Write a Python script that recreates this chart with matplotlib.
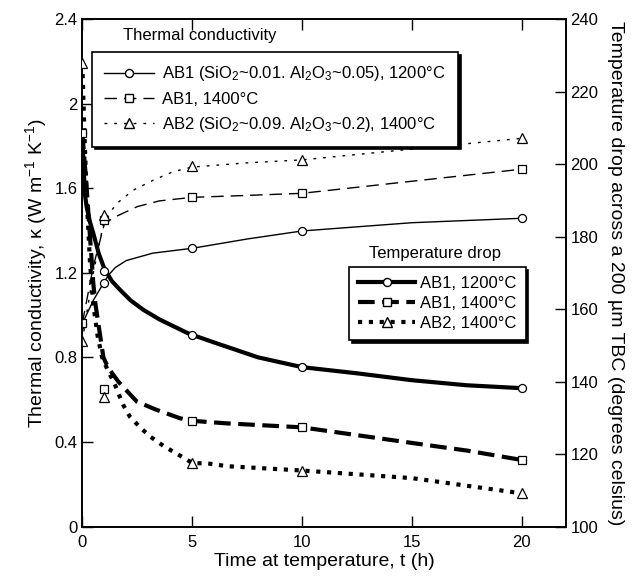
import matplotlib
matplotlib.use('Agg')
import matplotlib.pyplot as plt
from matplotlib.lines import Line2D

plt.rcParams['font.family'] = ['Liberation Sans', 'DejaVu Sans']
plt.rcParams['mathtext.fontset'] = 'custom'
plt.rcParams['mathtext.rm'] = 'Liberation Sans'
plt.rcParams['mathtext.it'] = 'Liberation Sans:italic'

# measured points (markers)
t_pts = [0, 1, 5, 10, 20]

# thermal conductivity (W/mK), left axis
k_ab1_1200 = [0.96, 1.15, 1.316, 1.398, 1.458]
k_ab1_1400 = [0.962, 1.449, 1.557, 1.576, 1.69]
k_ab2_1400 = [0.878, 1.473, 1.707, 1.734, 1.836]

# temperature drop (deg C), right axis
dT_ab1_1200 = [208.7, 170.5, 152.9, 144.0, 138.2]
dT_ab1_1400 = [208.7, 138.1, 129.2, 127.4, 118.4]
dT_ab2_1400 = [227.8, 135.9, 117.7, 115.4, 109.2]

# fitted curves
tc_ab1_1200 = [0, 0.5, 0.9, 1.2, 1.5, 2.0, 3.2, 5, 7.5, 10, 15, 20]
kc_ab1_1200 = [0.96, 1.07, 1.14, 1.19, 1.225, 1.258, 1.293, 1.316, 1.36, 1.398, 1.437, 1.458]
tc_ab1_1400 = [0, 0.5, 1, 1.4, 2.5, 3.5, 5, 7.5, 10, 15, 20]
kc_ab1_1400 = [0.962, 1.23, 1.43, 1.46, 1.513, 1.54, 1.557, 1.566, 1.576, 1.633, 1.69]
tc_ab2_1400 = [0, 0.5, 1, 1.58, 2.32, 3.23, 4.13, 5, 7.5, 10, 15, 20]
kc_ab2_1400 = [0.878, 1.2, 1.45, 1.529, 1.591, 1.638, 1.678, 1.70, 1.72, 1.734, 1.785, 1.836]

tdc_ab1_1200 = [0, 0.05, 0.12, 0.2, 0.35, 0.5, 0.75, 1.0, 1.35, 1.72, 2.2, 2.78,
                3.5, 4.82, 6, 8, 10, 12.5, 15, 17.5, 20]
dTc_ab1_1200 = [208.7, 200.3, 191.6, 188.1, 184.0, 180.9, 175.3, 171.2, 167.7, 165.3,
                162.4, 159.8, 157.2, 153.3, 150.8, 146.7, 144.0, 142.3, 140.4, 139.0, 138.2]
tdc_ab1_1400 = [0, 0.2, 0.35, 0.5, 0.6, 0.73, 0.96, 1.18, 1.64, 2.48, 3.39, 4.45,
                5, 6.57, 10, 15, 17.5, 20]
dTc_ab1_1400 = [208.7, 193.3, 180.0, 167.1, 161.3, 156.0, 146.7, 143.8, 140.0, 134.5,
                132.2, 129.9, 129.2, 128.5, 127.4, 123.1, 121.0, 118.4]
tdc_ab2_1400 = [0, 0.1, 0.2, 0.35, 0.5, 0.7, 0.9, 1.2, 1.45, 1.64, 1.87, 2.17, 2.63,
                3.08, 3.69, 4.22, 4.67, 5.02, 5.66, 6.57, 10, 15, 20]
dTc_ab2_1400 = [227.8, 207.9, 190.4, 172.9, 161.3, 152.5, 146.7, 142.6, 139.7, 136.8,
                133.5, 130.3, 127.4, 124.9, 122.3, 120.4, 118.8, 117.5, 117.5, 116.7,
                115.5, 113.4, 109.2]

fig = plt.figure(figsize=(6.39, 5.79), dpi=100)
ax = fig.add_axes([0.1288, 0.0903, 0.7565, 0.8769])
ax2 = ax.twinx()

mk = dict(markerfacecolor='white', markeredgecolor='black', markeredgewidth=0.9,
          linestyle='none', zorder=5)
MS_O, MS_S, MS_T = 5.8, 6.4, 6.8

# thin lines: conductivity
ax.plot(tc_ab1_1200, kc_ab1_1200, color='k', lw=1.0, ls='-')
ax.plot(tc_ab1_1400, kc_ab1_1400, color='k', lw=1.0, ls=(0, (9, 5)))
ax.plot(tc_ab2_1400, kc_ab2_1400, color='k', lw=1.0, ls=(0, (2, 5)))
ax.plot(t_pts, k_ab1_1200, marker='o', ms=MS_O, **mk)
ax.plot(t_pts, k_ab1_1400, marker='s', ms=MS_S, **mk)
ax.plot(t_pts, k_ab2_1400, marker='^', ms=MS_T, **mk)

# thick lines: temperature drop
ax2.plot(tdc_ab1_1200, dTc_ab1_1200, color='k', lw=3.0, ls='-', solid_capstyle='butt')
ax2.plot(tdc_ab1_1400, dTc_ab1_1400, color='k', lw=3.0, ls=(0, (4, 1.8)))
ax2.plot(tdc_ab2_1400, dTc_ab2_1400, color='k', lw=3.0, ls=(0, (1, 1.6)))
ax2.plot(t_pts, dT_ab1_1200, marker='o', ms=MS_O, **mk)
ax2.plot(t_pts, dT_ab1_1400, marker='s', ms=MS_S, **mk)
ax2.plot(t_pts, dT_ab2_1400, marker='^', ms=MS_T, **mk)

ax.set_xlim(0, 22)
ax.set_ylim(0, 2.4)
ax2.set_ylim(100, 240)
ax.set_xticks([0, 5, 10, 15, 20])
ax.set_yticks([0, 0.4, 0.8, 1.2, 1.6, 2.0, 2.4])
ax.set_yticklabels(['0', '0.4', '0.8', '1.2', '1.6', '2', '2.4'])
ax2.set_yticks([100, 120, 140, 160, 180, 200, 220, 240])

ax.tick_params(axis='x', direction='in', top=True, length=8, width=1, labelsize=12, pad=6)
ax.tick_params(axis='y', direction='in', length=8, width=1, labelsize=12)
ax2.tick_params(axis='y', direction='in', length=8, width=1, labelsize=12)
for a in (ax, ax2):
    for s in a.spines.values():
        s.set_linewidth(1.2)

ax.set_xlabel('Time at temperature, t (h)', fontsize=14, labelpad=2)
ax.set_ylabel('Thermal conductivity, κ (W m$^{-1}$ K$^{-1}$)', fontsize=14, labelpad=4)
ax2.set_ylabel('Temperature drop across a 200 µm TBC (degrees celsius)', fontsize=14,
               rotation=270, labelpad=18)

# legends
h1 = [Line2D([], [], color='k', lw=1.0, ls='-', marker='o', ms=MS_O, mfc='white', mec='k'),
      Line2D([], [], color='k', lw=1.0, ls=(0, (9, 5)), marker='s', ms=MS_S, mfc='white', mec='k'),
      Line2D([], [], color='k', lw=1.0, ls=(0, (2, 5)), marker='^', ms=MS_T, mfc='white', mec='k')]
l1 = ['AB1 (SiO$_2$~0.01. Al$_2$O$_3$~0.05), 1200°C',
      'AB1, 1400°C',
      'AB2 (SiO$_2$~0.09. Al$_2$O$_3$~0.2), 1400°C']
h2 = [Line2D([], [], color='k', lw=3.0, ls='-', marker='o', ms=MS_O, mfc='white', mec='k'),
      Line2D([], [], color='k', lw=3.0, ls=(0, (4, 1.8)), marker='s', ms=MS_S, mfc='white', mec='k'),
      Line2D([], [], color='k', lw=3.0, ls=(0, (1, 1.6)), marker='^', ms=MS_T, mfc='white', mec='k')]
l2 = ['AB1, 1200°C', 'AB1, 1400°C', 'AB2, 1400°C']

shadow = {'color': 'black', 'alpha': 1.0}
leg1 = ax2.legend(h1, l1, loc='upper left', bbox_to_anchor=(0.020, 0.935),
                  borderaxespad=0, fontsize=12, handlelength=3.0, handletextpad=0.45,
                  labelspacing=0.5, fancybox=False, shadow=shadow, edgecolor='black',
                  framealpha=1, borderpad=0.75)
leg1.get_frame().set_linewidth(1.2)
ax2.add_artist(leg1)
leg2 = ax2.legend(h2, l2, loc='upper left', bbox_to_anchor=(0.552, 0.5115),
                  borderaxespad=0, fontsize=12, handlelength=3.4, handletextpad=0.3,
                  labelspacing=0.3, fancybox=False, shadow=shadow, edgecolor='black',
                  framealpha=1, borderpad=0.55)
leg2.get_frame().set_linewidth(1.2)

ax.text(0.2436, 0.968, 'Thermal conductivity', transform=ax.transAxes,
        ha='center', va='center', fontsize=12)
ax.text(0.7296, 0.539, 'Temperature drop', transform=ax.transAxes,
        ha='center', va='center', fontsize=12)

fig.savefig('out.png', dpi=100)
